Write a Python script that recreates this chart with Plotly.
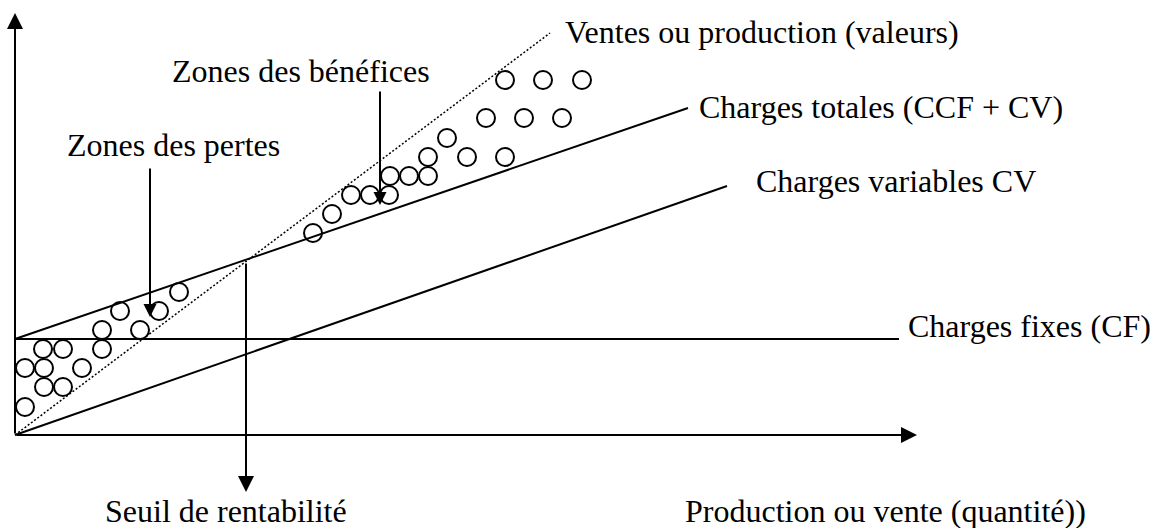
import plotly.graph_objects as go

# ---- Data (diagram units: quantity on x, value on y) ----
# Lines (end points)
ventes_q = [0, 535]
ventes_v = [0, 402]
totales_q = [0, 673]
totales_v = [96, 327]
variables_q = [0, 712]
variables_v = [0, 249]
fixes_q = [0, 884]
fixes_v = [96, 96]

# Axes extents
x_axis_end = 902
y_axis_end = 422

# Circles: upper cluster (zone des bénéfices)
benef_q = [490, 528, 567, 471, 509, 547, 432, 413, 452, 490, 413, 394, 375, 374, 355, 336, 317, 298]
benef_v = [355, 355, 355, 317, 317, 317, 297, 278, 278, 278, 259, 259, 259, 240, 240, 240, 221, 202]
# Circles: lower cluster (zone des pertes)
pertes_q = [164, 105, 144, 87, 125, 28, 48, 87, 10, 29, 67, 29, 48, 10]
pertes_v = [143, 124, 124, 105, 105, 86, 86, 86, 67, 67, 67, 48, 48, 28]

# Arrows (tail -> tip)
seuil_q = 231
seuil_v = [173, -57]
pertes_arrow_q = 135
pertes_arrow_v = [268, 118]
benef_arrow_q = 365
benef_arrow_v = [345, 230]

# Labels: (text, q-left, v-center)
labels = [
    ("Ventes ou production (valeurs)", 548, 403),
    ("Zones des bénéfices", 155, 364),
    ("Charges totales (CCF + CV)", 682, 328),
    ("Zones des pertes", 50, 290),
    ("Charges variables CV", 739, 254),
    ("Charges fixes (CF)", 891, 109),
    ("Seuil de rentabilité", 88, -76),
    ("Production ou vente (quantité))", 668, -76),
]

FONT = "Liberation Serif, Times New Roman, serif"

fig = go.Figure()

line_style = dict(color="black", width=2)
fig.add_trace(go.Scatter(x=ventes_q, y=ventes_v, mode="lines",
                         line=dict(color="black", width=1.5, dash="2px,2px")))
fig.add_trace(go.Scatter(x=totales_q, y=totales_v, mode="lines", line=line_style))
fig.add_trace(go.Scatter(x=variables_q, y=variables_v, mode="lines", line=line_style))
fig.add_trace(go.Scatter(x=fixes_q, y=fixes_v, mode="lines", line=line_style))

marker_style = dict(symbol="circle-open", size=18, color="black", line=dict(width=2, color="black"))
fig.add_trace(go.Scatter(x=benef_q, y=benef_v, mode="markers", marker=marker_style))
fig.add_trace(go.Scatter(x=pertes_q, y=pertes_v, mode="markers", marker=marker_style))

def arrow(x0, y0, x1, y1, size=1.6):
    fig.add_annotation(x=x1, y=y1, ax=x0, ay=y0, xref="x", yref="y", axref="x", ayref="y",
                       text="", showarrow=True, arrowhead=2, arrowsize=size,
                       arrowwidth=2, arrowcolor="black", standoff=0)

# axes
arrow(0, 0, 0, y_axis_end)
arrow(0, 0, x_axis_end, 0)
# pointer arrows
arrow(seuil_q, seuil_v[0], seuil_q, seuil_v[1])
arrow(pertes_arrow_q, pertes_arrow_v[0], pertes_arrow_q, pertes_arrow_v[1], size=1.3)
arrow(benef_arrow_q, benef_arrow_v[0], benef_arrow_q, benef_arrow_v[1], size=1.3)

for text, q, v in labels:
    fig.add_annotation(x=q, y=v, xref="x", yref="y", text=text, showarrow=False,
                       xanchor="left", yanchor="middle",
                       font=dict(family=FONT, size=32, color="black"))

fig.update_xaxes(range=[-15, 1141], visible=False, fixedrange=True)
fig.update_yaxes(range=[-93, 435], visible=False, fixedrange=True)
fig.update_layout(width=1156, height=528, margin=dict(l=0, r=0, t=0, b=0),
                  paper_bgcolor="white", plot_bgcolor="white", showlegend=False,
                  hovermode=False)

fig.write_html("out.html", config={"displayModeBar": False},
               post_script="document.body.style.margin='0';document.body.style.overflow='hidden';")
